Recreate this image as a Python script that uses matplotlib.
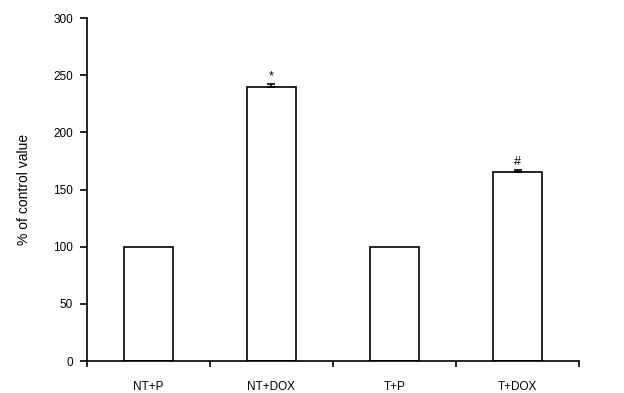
import matplotlib
matplotlib.use("Agg")
import matplotlib.pyplot as plt
import numpy as np

# --- data ---
groups = ["NT+P", "NT+DOX", "T+P", "T+DOX"]
values = [100, 240, 100, 165]
errors = [0, 2, 0, 2]
marks = ["", "*", "", "#"]

plt.rcParams['font.family'] = ['Liberation Sans', 'DejaVu Sans']

fig = plt.figure(figsize=(6.24, 3.93), dpi=100)
ax = fig.add_axes([0.139, 0.081, 0.789, 0.873])

x = np.arange(len(groups))
ax.bar(x, values, width=0.4, color="white", edgecolor="black", linewidth=1.2, zorder=2)

# upper error bars only
for xi, v, e in zip(x, values, errors):
    if e > 0:
        ax.errorbar(xi, v, yerr=[[0], [e]], fmt="none", ecolor="black",
                    elinewidth=1.2, capsize=3, capthick=1.2, zorder=3)

for xi, v, e, m in zip(x, values, errors, marks):
    if m:
        ax.text(xi, v + e + 2, m, ha="center", va="bottom", fontsize=9)

ax.set_xlim(-0.5, len(groups) - 0.5)
ax.set_ylim(0, 300)
ax.set_yticks(np.arange(0, 301, 50))
ax.set_xticks(np.arange(-0.5, len(groups), 1.0))
ax.set_xticklabels([])
ax.set_xticks(x, minor=True)
ax.set_xticklabels(groups, minor=True)
ax.tick_params(axis="x", which="minor", length=0, pad=14, labelsize=8.5)
ax.tick_params(axis="x", which="major", length=4, width=1.2, direction="out")
ax.tick_params(axis="y", length=5, width=1.2, direction="out", labelsize=8.5, pad=5)

for s in ["top", "right"]:
    ax.spines[s].set_visible(False)
for s in ["left", "bottom"]:
    ax.spines[s].set_linewidth(1.2)

ax.set_ylabel("% of control value", fontsize=10, labelpad=16)

fig.savefig("out.png", dpi=100)
